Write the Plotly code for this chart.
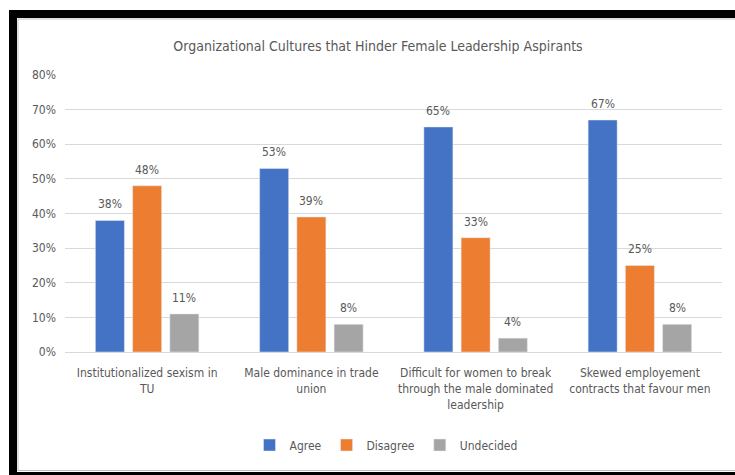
import plotly.graph_objects as go

categories = [
    "Institutionalized sexism in<br>TU",
    "Male dominance in trade<br>union",
    "Difficult for women to break<br>through the male dominated<br>leadership",
    "Skewed employement<br>contracts that favour men",
]
agree = [0.38, 0.53, 0.65, 0.67]
disagree = [0.48, 0.39, 0.33, 0.25]
undecided = [0.11, 0.08, 0.04, 0.08]
series_names = ["Agree", "Disagree", "Undecided"]
colors = ["#4472C4", "#ED7D31", "#A5A5A5"]
y_ticks = [0, 0.1, 0.2, 0.3, 0.4, 0.5, 0.6, 0.7, 0.8]

FONT = "Liberation Sans Narrow, DejaVu Sans Condensed, Roboto Condensed, Arial Narrow, sans-serif"
TXT = "#595959"

W, H = 735, 475
L, R, T, B = 65, 13, 75, 123
pw, ph = W - L - R, H - T - B
BARGAP, GROUPGAP = 0.32, 0.22

def px(x):
    return (x - L) / pw

def py(y):
    return (H - B - y) / ph

fig = go.Figure()
series = [agree, disagree, undecided]
annotations = []
slot = (1 - BARGAP) / len(series)
for k, (name, vals, c) in enumerate(zip(series_names, series, colors)):
    fig.add_trace(go.Bar(name=name, x=categories, y=vals, marker_color=c))
    off = (k - (len(series) - 1) / 2) * slot
    for i, v in enumerate(vals):
        annotations.append(dict(
            x=i + off, y=v, xref="x", yref="y", text=f"{round(v*100)}%",
            showarrow=False, yanchor="bottom", yshift=7,
            font=dict(color=TXT, size=12, family=FONT),
        ))

shapes = [
    dict(type="rect", xref="paper", yref="paper", x0=px(9), x1=px(736), y0=py(18), y1=py(10),
         fillcolor="black", line_width=0, layer="above"),
    dict(type="rect", xref="paper", yref="paper", x0=px(9), x1=px(17), y0=py(476), y1=py(10),
         fillcolor="black", line_width=0, layer="above"),
    dict(type="rect", xref="paper", yref="paper", x0=px(9), x1=px(736), y0=py(476), y1=py(472),
         fillcolor="black", line_width=0, layer="above"),
    dict(type="line", xref="paper", yref="paper", x0=px(18), x1=px(736), y0=py(19), y1=py(19),
         line=dict(color="#BFBFBF", width=1), layer="above"),
    dict(type="line", xref="paper", yref="paper", x0=px(18), x1=px(18), y0=py(471), y1=py(19),
         line=dict(color="#BFBFBF", width=1), layer="above"),
    dict(type="line", xref="paper", yref="paper", x0=px(18), x1=px(736), y0=py(470.5), y1=py(470.5),
         line=dict(color="#BFBFBF", width=1), layer="above"),
]

fig.update_layout(
    width=W, height=H,
    margin=dict(l=L, r=R, t=T, b=B),
    paper_bgcolor="white", plot_bgcolor="white",
    font=dict(family=FONT, color=TXT, size=12),
    title=dict(text="Organizational Cultures that Hinder Female Leadership Aspirants",
               x=px(378), xanchor="center", xref="paper", y=1 - 46 / H, yanchor="middle",
               font=dict(size=14, color=TXT, family=FONT)),
    barmode="group", bargap=BARGAP, bargroupgap=GROUPGAP,
    showlegend=True,
    legend=dict(orientation="h", x=px(386), xanchor="center", y=py(445), yanchor="middle",
                font=dict(size=12, color=TXT, family=FONT), itemwidth=30, tracegroupgap=0),
    shapes=shapes,
    annotations=annotations,
)
fig.update_xaxes(showgrid=False, showline=True, linecolor="#D9D9D9", linewidth=1,
                 ticks="", ticklabelstandoff=10, tickfont=dict(size=12, color=TXT, family=FONT))
fig.update_yaxes(range=[0, 0.8], tickvals=y_ticks, tickformat=".0%", showgrid=True,
                 gridcolor="#D9D9D9", gridwidth=1, zeroline=False, showline=False,
                 ticks="", ticklabelstandoff=8, tickfont=dict(size=12, color=TXT, family=FONT))

fig.write_html("out.html")
